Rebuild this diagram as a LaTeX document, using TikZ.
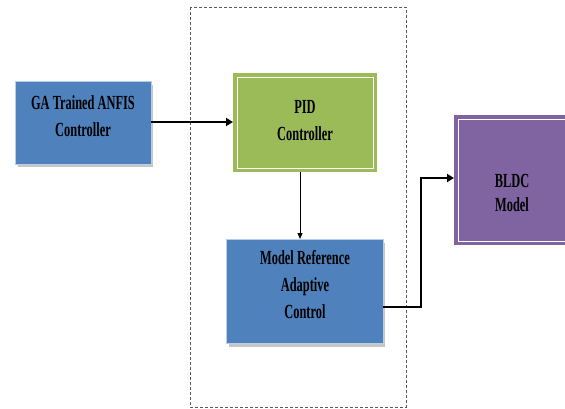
\documentclass[tikz,border=0pt]{standalone}
\usepackage{fontspec}
\setmainfont{Liberation Serif}[FakeStretch=0.62]
\usetikzlibrary{arrows.meta,calc}
\definecolor{boxblue}{HTML}{4F81BD}
\definecolor{boxgreen}{HTML}{9BBB59}
\definecolor{boxpurple}{HTML}{8064A2}
\definecolor{edgeblue}{HTML}{B9CDE5}
\tikzset{
  lbl/.style={font=\bfseries\fontsize{20}{27}\selectfont, align=center, text=black},
  shadowbox/.style={draw=edgeblue, line width=0.8pt, fill=boxblue},
  flow/.style={draw=black, line width=2.4pt, -{Triangle[length=7pt,width=8pt]}},
  thinflow/.style={draw=black, line width=1pt, -{Triangle[length=6pt,width=5pt]}},
}
\begin{document}
\begin{tikzpicture}[x=1pt,y=-1pt]
\useasboundingbox (0,0) rectangle (565,408);
\fill[white] (0,0) rectangle (565,408);

% dashed frame around the controller pair
\draw[gray!70!black, dash pattern=on 3pt off 2pt, line width=0.7pt] (190,7) rectangle (406,407);

% GA trained ANFIS controller
\fill[gray!45] (18,85) rectangle (153,167);
\draw[shadowbox] (15,81) rectangle (151,164);
\node[lbl] (ga) at (83,116) {GA Trained ANFIS\\Controller};
\coordinate (gaE) at (151,122);

% PID controller (double border)
\fill[boxgreen] (233,73) rectangle (377,172);
\draw[white, line width=1pt] (237,77) rectangle (373,168);
\node[lbl] (pid) at (305,121) {PID\\Controller};
\coordinate (pidW) at (233,122);
\coordinate (pidS) at (300,172);

% Model reference adaptive control
\fill[gray!45] (229,243) rectangle (385,347);
\draw[shadowbox] (226,239) rectangle (383,343);
\node[lbl] (mrac) at (305,285) {Model Reference\\Adaptive\\Control};
\coordinate (mracN) at (300,239);
\coordinate (mracE) at (383,307);

% BLDC model (double border)
\fill[boxpurple] (454,115) rectangle (575,245);
\draw[white, line width=1pt] (458,119) rectangle (571,241);
\node[lbl] (bldc) at (512,193) {BLDC\\[-3pt]Model};
\coordinate (bldcW) at (454,178);
\coordinate (bend) at (421,307);

% connectors
\draw[flow] (gaE) -- (pidW);
\draw[thinflow] (pidS) -- (mracN);
\draw[flow] (mracE) -- (bend) |- (bldcW);
\end{tikzpicture}
\end{document}
